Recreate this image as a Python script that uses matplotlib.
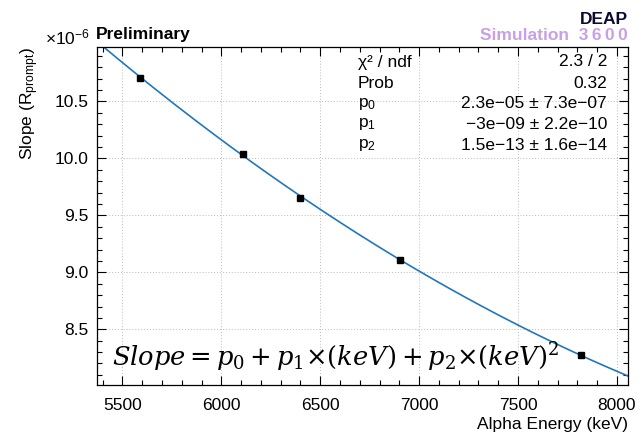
import numpy as np
import matplotlib
matplotlib.use("Agg")
import matplotlib.pyplot as plt
from matplotlib.ticker import MultipleLocator, FormatStrFormatter

plt.rcParams['font.family'] = ['Liberation Sans', 'DejaVu Sans']
plt.rcParams['mathtext.fontset'] = 'custom'
plt.rcParams['mathtext.rm'] = 'Liberation Sans'
plt.rcParams['mathtext.it'] = 'Liberation Sans:italic'
plt.rcParams['mathtext.bf'] = 'Liberation Sans:bold'

# Data (slope in units of 1e-6)
energy_kev = [5590, 6110, 6400, 6905, 7820]
slope_e6 = [10.71, 10.04, 9.655, 9.11, 8.27]

stat_labels = ["χ² / ndf", "Prob", "p$_0$", "p$_1$", "p$_2$"]
stat_values = ["2.3 / 2", "0.32", "2.3e−05 ± 7.3e−07", "−3e−09 ± 2.2e−10", "1.5e−13 ± 1.6e−14"]

W, H = 644, 441
fig = plt.figure(figsize=(W / 100, H / 100), dpi=100)
L, R, T, B = 96.5, 628, 47, 385
ax = fig.add_axes([L / W, 1 - B / H, (R - L) / W, (B - T) / H])

xlo, xhi = 5369, 8056
ylo, yhi = 8.011, 10.978

# quadratic fit
coef = np.polyfit(energy_kev, slope_e6, 2)
xs = np.linspace(xlo, xhi, 300)
ax.plot(xs, np.polyval(coef, xs), color='#2277bb', lw=1.2, zorder=2)
ax.plot(energy_kev, slope_e6, 's', color='black', ms=5, zorder=3)

ax.set_xlim(xlo, xhi)
ax.set_ylim(ylo, yhi)
ax.xaxis.set_major_locator(MultipleLocator(500))
ax.xaxis.set_minor_locator(MultipleLocator(100))
ax.yaxis.set_major_locator(MultipleLocator(0.5))
ax.yaxis.set_minor_locator(MultipleLocator(0.1))
ax.yaxis.set_major_formatter(FormatStrFormatter('%.1f'))
ax.tick_params(which='both', direction='in', top=True, right=True, labelsize=12.5, width=0.8)
ax.tick_params(which='major', length=6.5, pad=6)
ax.tick_params(axis='x', which='major', pad=9)
ax.tick_params(which='minor', length=3.5)
ax.grid(True, which='major', linestyle=(0, (1, 2)), color='#bbbbbb', lw=0.7)
for s in ax.spines.values():
    s.set_linewidth(0.9)

def fx(px):
    return px / W

def fy(py):
    return 1 - py / H

# stats box
rows_y = [62, 83, 104, 124.5, 145]
for lab, val, yy in zip(stat_labels, stat_values, rows_y):
    fig.text(fx(358), fy(yy), lab, ha='left', va='center', fontsize=12.5)
    fig.text(fx(607), fy(yy), val, ha='right', va='center', fontsize=12.5)

# titles
fig.text(fx(96), fy(35), "Preliminary", ha='left', va='center', fontsize=12.5, fontweight='bold')
fig.text(fx(90), fy(37), r"$\times$10$^{-6}$", ha='right', va='center', fontsize=12.5)
fig.text(fx(628), fy(20), "DEAP", ha='right', va='center', fontsize=12.5, fontweight='bold', color='#0b0b2e')
fig.text(fx(628), fy(35), "Simulation  3\u20096\u20090\u20090", ha='right', va='center', fontsize=12.5, fontweight='bold', color='#c8a0e6')

# axis labels
fig.text(fx(628), fy(425), "Alpha Energy (keV)", ha='right', va='center', fontsize=12.5)
fig.text(fx(30), fy(47), r"Slope (R$_{\mathrm{prompt}}$)", ha='center', va='top', rotation=90, fontsize=12.5)

# formula
fig.text(fx(112), fy(366), r"$Slope = p_0 + p_1{\times}(keV) + p_2{\times}(keV)^2$",
         ha='left', va='baseline', fontsize=18.5, math_fontfamily='dejavuserif')

fig.savefig("out.png", dpi=100)
